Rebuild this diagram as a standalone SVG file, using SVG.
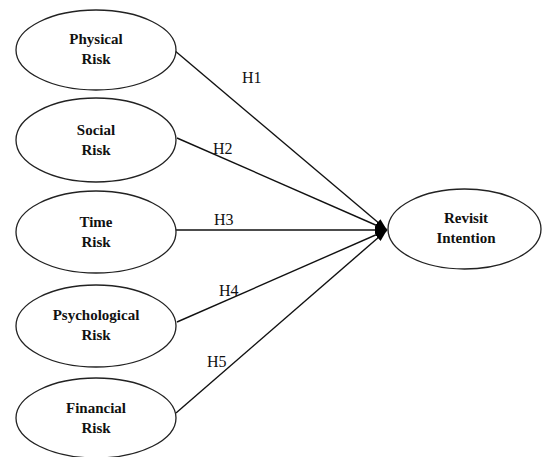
<svg xmlns="http://www.w3.org/2000/svg" width="542" height="457" viewBox="0 0 542 457">
<style>
.n ellipse{fill:#fff;stroke:#222;stroke-width:1.3}
.n text{font-family:"Liberation Serif","Times New Roman",serif;font-weight:bold;font-size:15px;fill:#111;text-anchor:middle}
.c line{stroke:#111;stroke-width:1.4}
.lbl{font-family:"Liberation Serif","Times New Roman",serif;font-size:16px;fill:#111}
</style>
<defs>
<marker id="ah" viewBox="0 0 12 8" refX="12" refY="4" markerWidth="12" markerHeight="8" markerUnits="userSpaceOnUse" orient="auto">
<path d="M0,0 L12,4 L0,8 Z" fill="#000"/>
</marker>
</defs>
<rect width="542" height="457" fill="#fff"/>
<g class="c" id="connectors">
<line x1="174" y1="50" x2="387" y2="230" marker-end="url(#ah)"/>
<line x1="177" y1="138" x2="387" y2="230" marker-end="url(#ah)"/>
<line x1="176" y1="230" x2="387" y2="230" marker-end="url(#ah)"/>
<line x1="177" y1="322" x2="387" y2="230" marker-end="url(#ah)"/>
<line x1="176" y1="413" x2="387" y2="230" marker-end="url(#ah)"/>
<text class="lbl" x="242" y="83">H1</text>
<text class="lbl" x="213" y="154">H2</text>
<text class="lbl" x="214" y="225">H3</text>
<text class="lbl" x="219" y="296">H4</text>
<text class="lbl" x="207" y="367">H5</text>
</g>
<g class="n" id="physical">
<ellipse cx="96" cy="50" rx="80" ry="40"/>
<text x="96" y="44">Physical</text>
<text x="96" y="64">Risk</text>
</g>
<g class="n" id="social">
<ellipse cx="96" cy="140" rx="80" ry="42"/>
<text x="96" y="135">Social</text>
<text x="96" y="155">Risk</text>
</g>
<g class="n" id="time">
<ellipse cx="96" cy="232" rx="80" ry="41"/>
<text x="96" y="227">Time</text>
<text x="96" y="247">Risk</text>
</g>
<g class="n" id="psychological">
<ellipse cx="96" cy="326" rx="80" ry="41"/>
<text x="96" y="320">Psychological</text>
<text x="96" y="340">Risk</text>
</g>
<g class="n" id="financial">
<ellipse cx="96" cy="418" rx="80" ry="40"/>
<text x="96" y="413">Financial</text>
<text x="96" y="433">Risk</text>
</g>
<g class="n" id="revisit">
<ellipse cx="464.5" cy="229" rx="76.5" ry="40"/>
<text x="466" y="223">Revisit</text>
<text x="466" y="243">Intention</text>
</g>
</svg>
